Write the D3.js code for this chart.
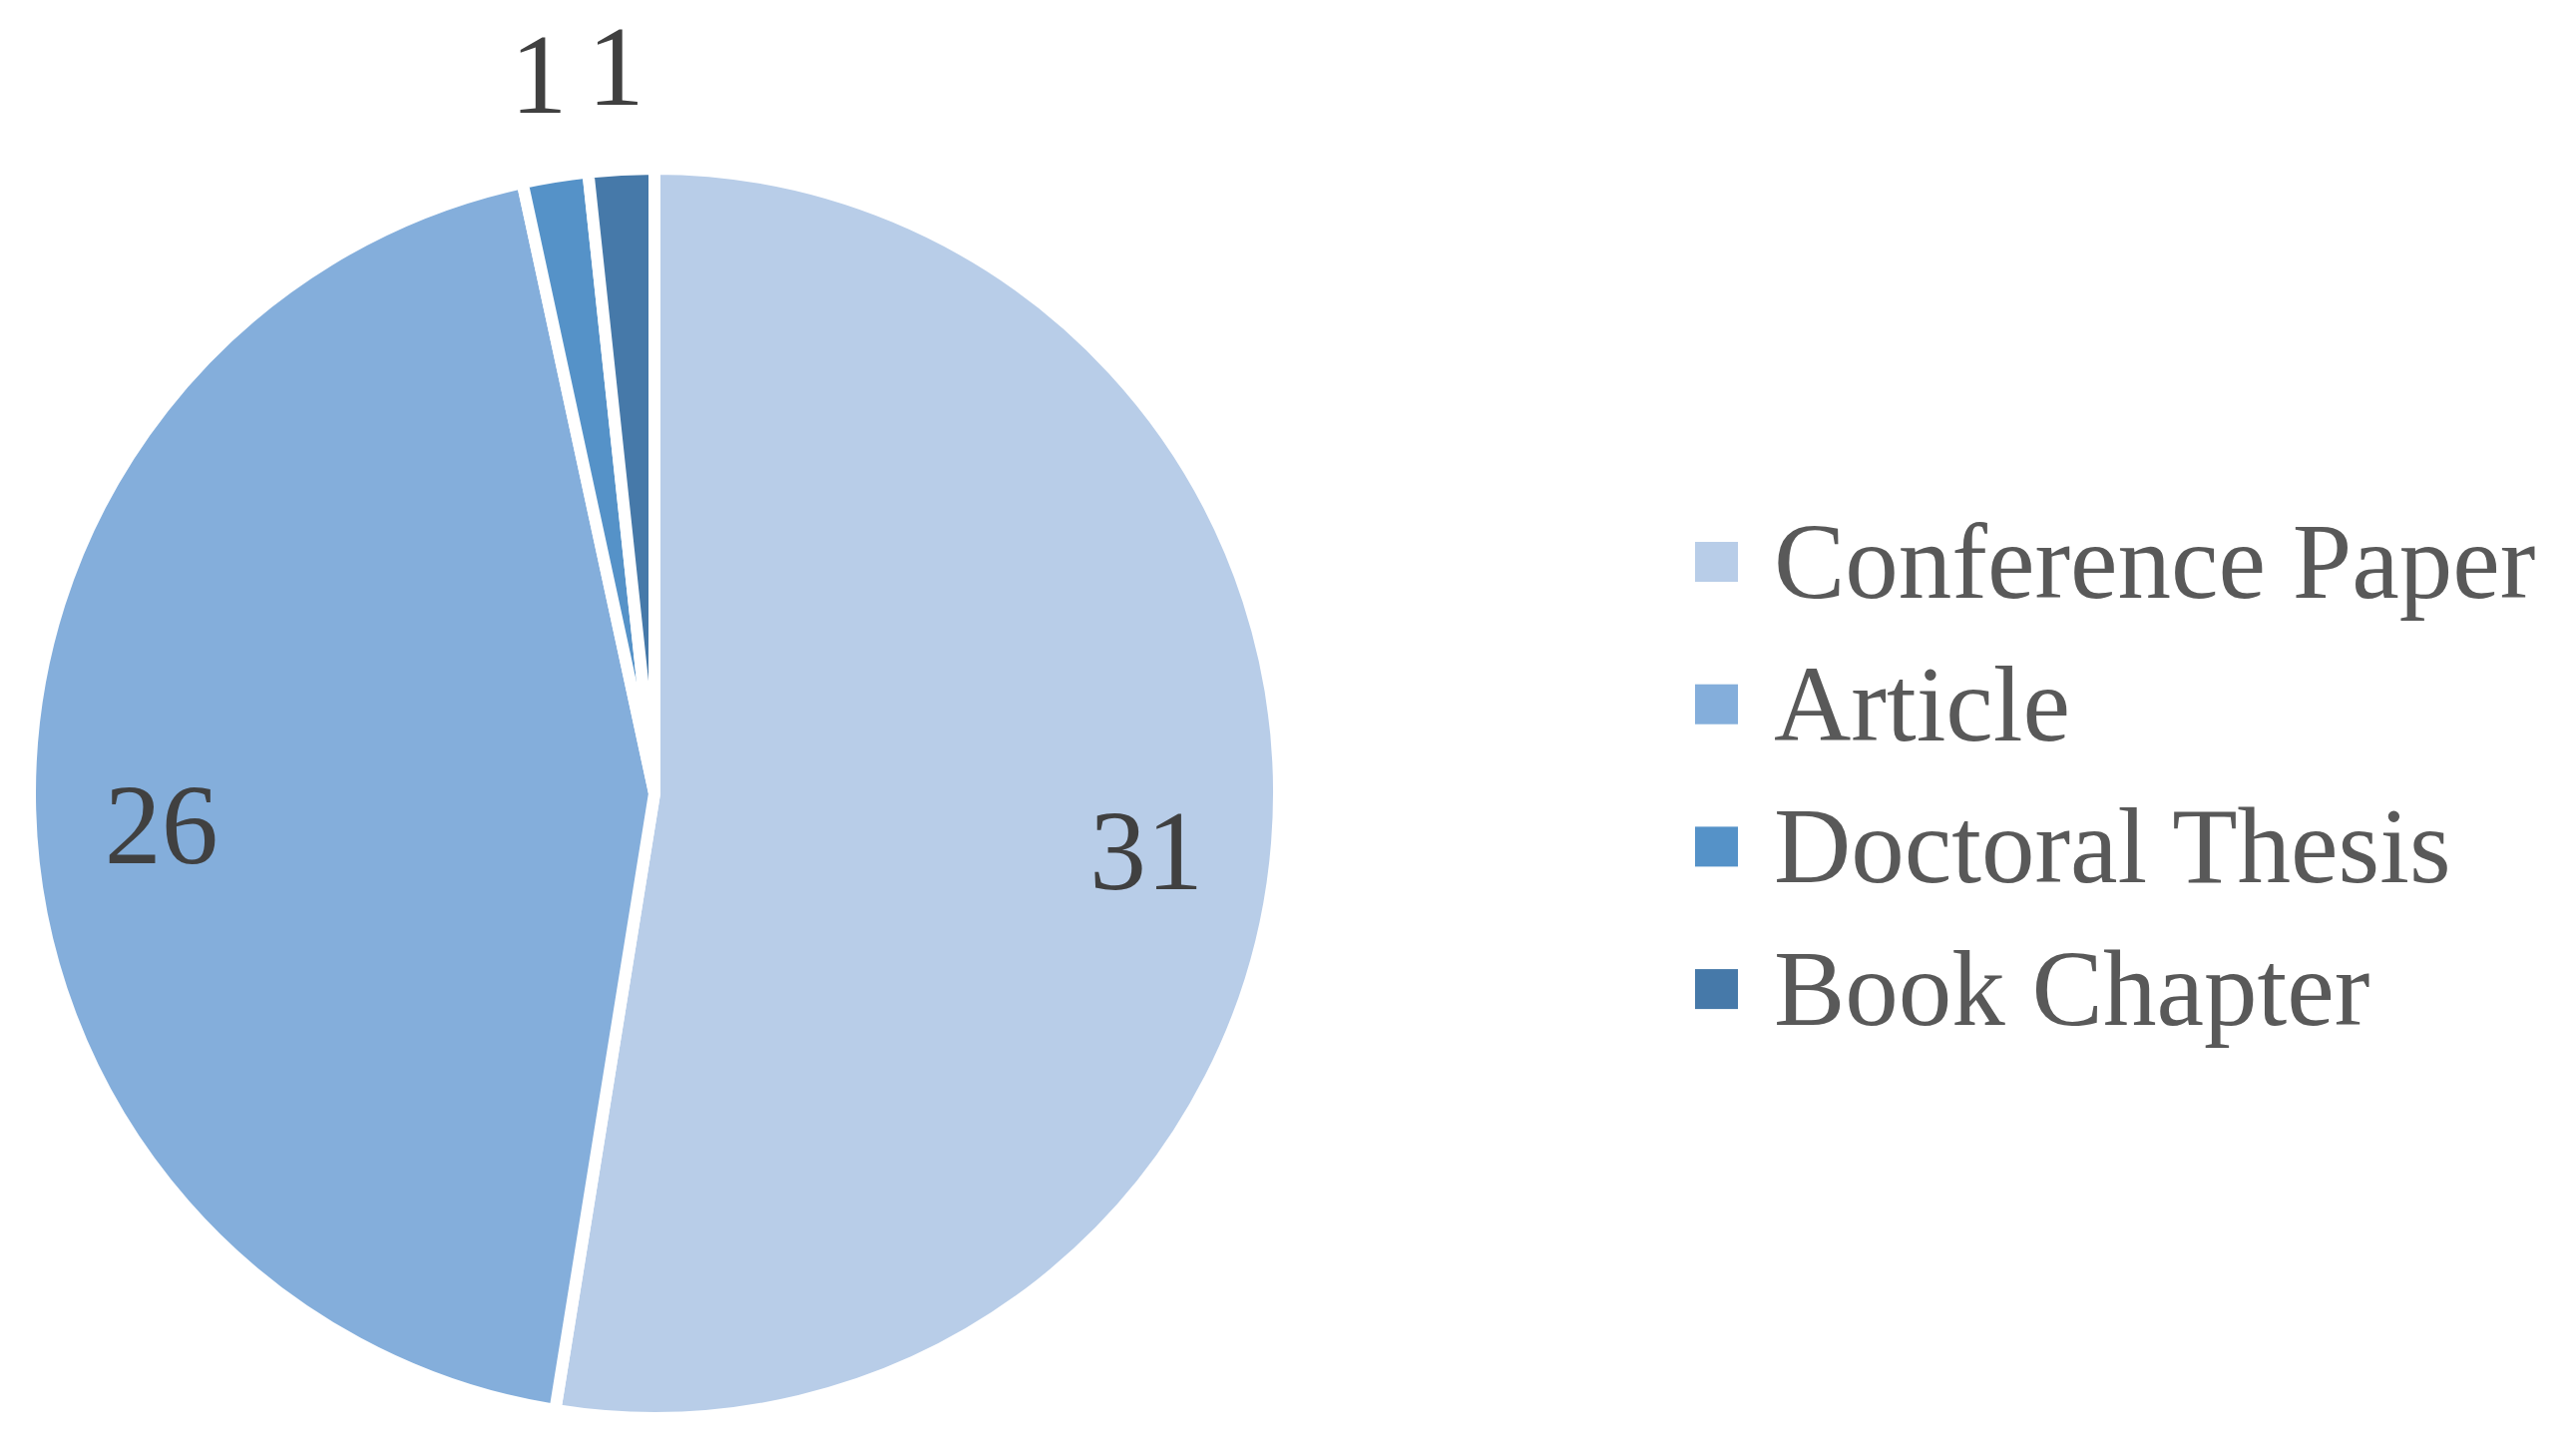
<!DOCTYPE html>
<html>
<head>
<meta charset="utf-8">
<script src="https://cdn.jsdelivr.net/npm/d3@7"></script>
<style>
  body { margin: 0; background: #fff; }
</style>
</head>
<body>
<div id="container"></div>
<script>
/* DATA */
const categories = ["Conference Paper", "Article", "Doctoral Thesis", "Book Chapter"];
const counts = [31, 26, 1, 1];
const colors = ["#b8cde8", "#84aedb", "#5592c8", "#4679a9"];

/* CONSTANTS */
const width = 2582;
const height = 1459;
const cx = 656, cy = 795;
const radius = 626;

const data = categories.map((c, i) => ({ name: c, value: counts[i] }));

const svg = d3.select("#container")
  .append("svg")
  .attr("width", width)
  .attr("height", height)
  .style("background-color", "#fff");

const g = svg.append("g")
  .attr("transform", `translate(${cx}, ${cy})`);

// pie layout, clockwise from 12 o'clock, no sorting
const pie = d3.pie()
  .value(d => d.value)
  .sort(null);

const arc = d3.arc()
  .innerRadius(0)
  .outerRadius(radius);

const colorScale = d3.scaleOrdinal()
  .domain(categories)
  .range(colors);

const arcs = pie(data);

g.selectAll("path.slice")
  .data(arcs)
  .join("path")
  .attr("class", "slice")
  .attr("d", arc)
  .attr("fill", d => colorScale(d.data.name))
  .attr("stroke", "#fff")
  .attr("stroke-width", 12)
  .attr("stroke-linejoin", "miter");

// labels: big slices inside ("best fit"), small slices outside end
const insideArc = d3.arc().innerRadius(radius * 0.79).outerRadius(radius * 0.79);
const outsideArc = d3.arc().innerRadius(radius + 104).outerRadius(radius + 104);

g.selectAll("text.value")
  .data(arcs)
  .join("text")
  .attr("class", "value")
  .attr("transform", d => {
    const small = (d.endAngle - d.startAngle) < 0.3;
    let [x, y] = small ? outsideArc.centroid(d) : insideArc.centroid(d);
    // nudge inside labels down a little
    if (!small) y += 18;
    return `translate(${x}, ${y})`;
  })
  .attr("text-anchor", "middle")
  .attr("dominant-baseline", "central")
  .style("font-family", "'Liberation Serif', 'DejaVu Serif', serif")
  .style("font-size", "114px")
  .style("fill", "#404040")
  .text(d => d.data.value);

/* LEGEND */
const legendX = 1699;
const legendTop = 563;
const legendStep = 142.7;

const legend = svg.append("g")
  .attr("transform", `translate(${legendX}, ${legendTop})`);

const items = legend.selectAll("g.item")
  .data(categories)
  .join("g")
  .attr("class", "item")
  .attr("transform", (d, i) => `translate(0, ${i * legendStep})`);

items.append("rect")
  .attr("x", 0)
  .attr("y", -20)
  .attr("width", 43)
  .attr("height", 40)
  .attr("fill", d => colorScale(d));

items.append("text")
  .attr("x", 79)
  .attr("y", 0)
  .attr("dominant-baseline", "central")
  .style("font-family", "'Liberation Serif', 'DejaVu Serif', serif")
  .style("font-size", "107px")
  .style("fill", "#595959")
  .text(d => d);
</script>
</body>
</html>
